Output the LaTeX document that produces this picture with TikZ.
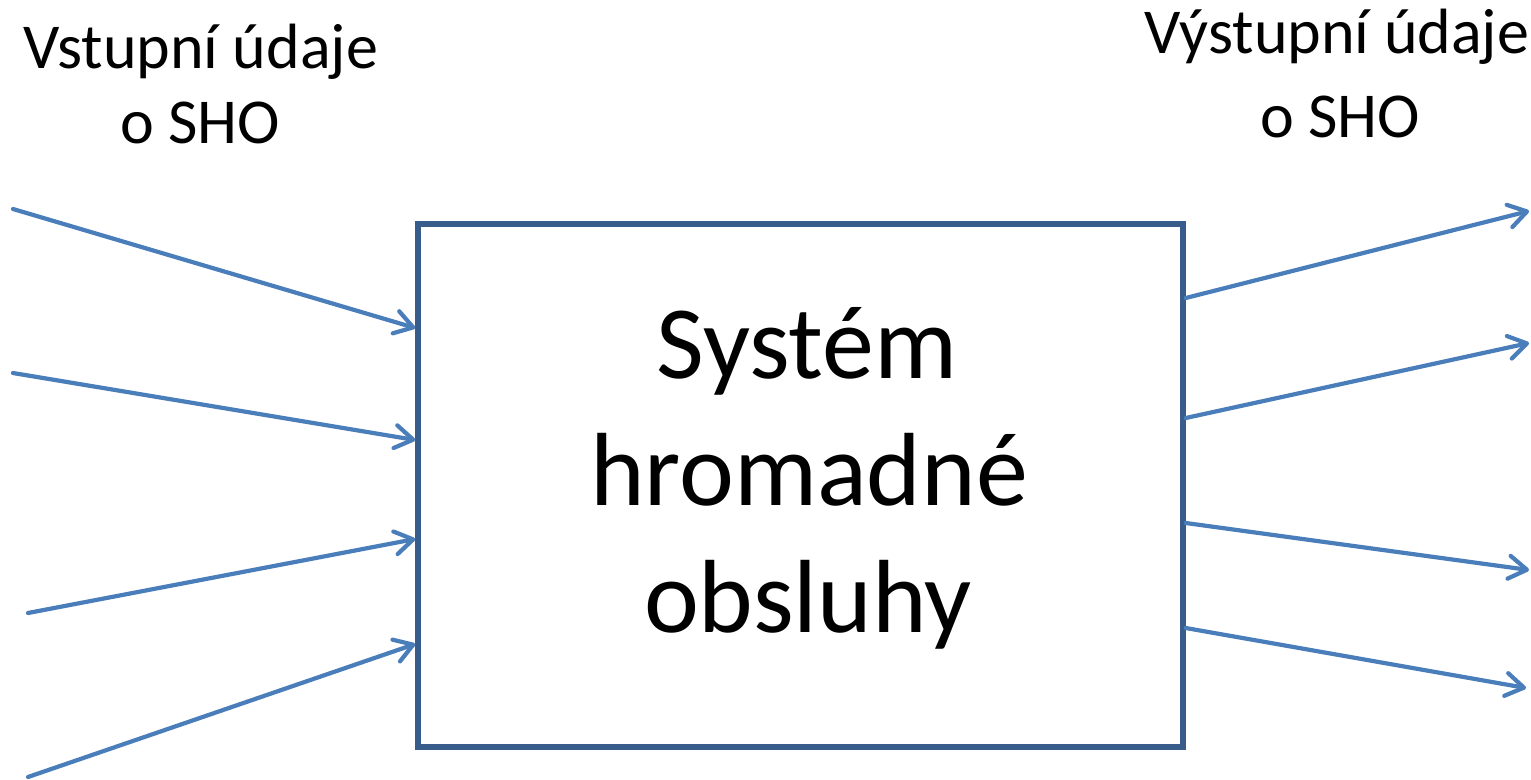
\documentclass[tikz,border=0pt]{standalone}
\usepackage{fontspec}
\setmainfont{Carlito}
\usetikzlibrary{arrows.meta,calc}
\definecolor{arrowblue}{HTML}{4A7EBB}
\definecolor{boxblue}{HTML}{385D8A}
\begin{document}
\begin{tikzpicture}[x=1pt,y=-1pt,
  flow/.style={draw=arrowblue,line width=4.2pt,line cap=round,line join=round,
    -{Straight Barb[length=18pt,width=23pt,line width=4.2pt,round]}},
  sidetext/.style={anchor=base,inner sep=0pt,font=\fontsize{64}{75}\selectfont},
  maintext/.style={anchor=base,inner sep=0pt,font=\fontsize{104}{127}\selectfont}]
\useasboundingbox (0,0) rectangle (1531,779);
\node[draw=boxblue,line width=5.5pt,minimum width=765pt,minimum height=523pt,inner sep=0pt]
  (box) at (800.5,485.5) {};
\node[maintext] (t1) at (807,378) {Systém};
\node[maintext] (t2) at (809,505) {hromadné};
\node[maintext] (t3) at (808,632) {obsluhy};
\node[sidetext] (l1) at (201,68) {Vstupní údaje};
\node[sidetext] (l2) at (200,143) {o SHO};
\node[sidetext] (r1) at (1337,53) {Výstupní údaje};
\node[sidetext] (r2) at (1340,137) {o SHO};
% inputs
\coordinate (i1) at (13,209);
\coordinate (i2) at (13,373);
\coordinate (i3) at (28,613);
\coordinate (i4) at (28,777);
\coordinate (e1) at (box.west |- 0,328);
\coordinate (e2) at (box.west |- 0,440);
\coordinate (e3) at (box.west |- 0,539);
\coordinate (e4) at (box.west |- 0,644);
\draw[flow] (i1) -- (e1);
\draw[flow] (i2) -- (e2);
\draw[flow] (i3) -- (e3);
\draw[flow] (i4) -- (e4);
% outputs
\coordinate (s1) at (box.east |- 0,298);
\coordinate (s2) at (box.east |- 0,418);
\coordinate (s3) at (box.east |- 0,523);
\coordinate (s4) at (box.east |- 0,628);
\coordinate (o1) at (1529,211);
\coordinate (o2) at (1529,343);
\coordinate (o3) at (1529,570);
\coordinate (o4) at (1526,688);
\draw[flow] (s1) -- (o1);
\draw[flow] (s2) -- (o2);
\draw[flow] (s3) -- (o3);
\draw[flow] (s4) -- (o4);
\end{tikzpicture}
\end{document}
